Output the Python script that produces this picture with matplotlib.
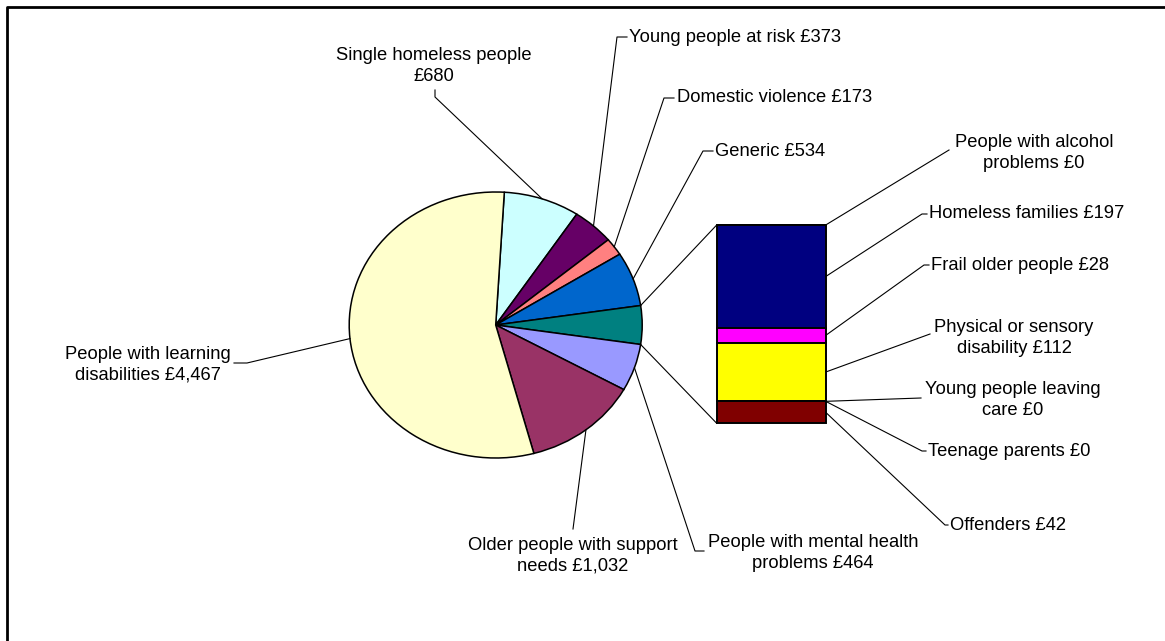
import matplotlib
matplotlib.use("Agg")
import matplotlib.pyplot as plt
import numpy as np

plt.rcParams['font.family'] = ['Liberation Sans', 'DejaVu Sans']

# ---- data -------------------------------------------------------------
pie_names = ["Single homeless people", "Young people at risk", "Domestic violence",
             "Generic", "People with mental health problems",
             "Older people with support needs", "People with learning disabilities"]
pie_values = [680, 373, 173, 534, 464, 1032, 4467]
pie_colors = ["#CCFFFF", "#660066", "#FF8080", "#0066CC",
              "#9999FF", "#993366", "#FFFFCC"]
pie_label_fmt = ["Single homeless people\n£{:,}", "Young people at risk £{:,}",
                 "Domestic violence £{:,}", "Generic £{:,}",
                 "People with mental health\nproblems £{:,}",
                 "Older people with support\nneeds £{:,}",
                 "People with learning\ndisabilities £{:,}"]

# breakdown shown in the bar (top to bottom)
bar_names = ["People with alcohol problems", "Homeless families", "Frail older people",
             "Physical or sensory disability", "Young people leaving care",
             "Teenage parents", "Offenders"]
bar_values = [0, 197, 28, 112, 0, 0, 42]
bar_colors = ["#CCCCFF", "#000080", "#FF00FF", "#FFFF00", "#00FFFF", "#800080", "#800000"]
bar_label_fmt = ["People with alcohol\nproblems £{:,}", "Homeless families £{:,}",
                 "Frail older people £{:,}", "Physical or sensory\ndisability £{:,}",
                 "Young people leaving\ncare £{:,}", "Teenage parents £{:,}",
                 "Offenders £{:,}"]
other_color = "#008080"
other_index = 4   # position of the combined slice in the pie

# ---- figure -----------------------------------------------------------
W, H = 1165, 641
fig = plt.figure(figsize=(W / 100, H / 100), dpi=100)
fig.patch.set_facecolor("white")

def box(left, top, right, bottom):
    return [left / W, 1 - bottom / H, (right - left) / W, (bottom - top) / H]

# pie (drawn as an ellipse)
other_value = sum(bar_values)
values = pie_values[:other_index] + [other_value] + pie_values[other_index:]
colors = pie_colors[:other_index] + [other_color] + pie_colors[other_index:]
total = sum(values)
before = sum(values[:other_index])
start = 360.0 * (before + other_value / 2) / total   # centre the combined slice at 3 o'clock

cx, cy, rx, ry = 495.7, 325.0, 146.5, 133.0
m = 1.05
pax = fig.add_axes(box(cx - rx * m, cy - ry * m, cx + rx * m, cy + ry * m))
wedges, _ = pax.pie(values, colors=colors, startangle=start, counterclock=False,
                    radius=1.0, wedgeprops=dict(edgecolor="black", linewidth=1.1))
pax.set_aspect("auto")
pax.set_xlim(-m, m)
pax.set_ylim(-m, m)
pax.axis("off")

# stacked bar
bx0, by0, bx1, by1 = 716.7, 225.0, 825.7, 423.3
bax = fig.add_axes(box(bx0, by0, bx1, by1))
bottom = other_value
bar_mids = []
for v, c in zip(bar_values, bar_colors):
    bottom -= v
    bax.bar(0, v, bottom=bottom, width=1.0, color=c, edgecolor="black", linewidth=1.4)
    bar_mids.append(bottom + v / 2)
bax.set_xlim(-0.5, 0.5)
bax.set_ylim(0, other_value)
bax.axis("off")
for p in bax.patches:
    p.set_clip_on(False)

# overlay in pixel coordinates for labels and leader lines
ov = fig.add_axes([0, 0, 1, 1], facecolor="none")
ov.set_xlim(0, W)
ov.set_ylim(H, 0)
ov.axis("off")

def to_ov(ax, pt):
    return ov.transData.inverted().transform(ax.transData.transform(pt))

LW = 0.8
FS = 13.2
LS = 1.3

# connectors from the combined slice to the bar
ow = wedges[other_index]
for ang, yb in ((max(ow.theta1, ow.theta2), other_value), (min(ow.theta1, ow.theta2), 0)):
    p0 = to_ov(pax, (np.cos(np.radians(ang)), np.sin(np.radians(ang))))
    p1 = to_ov(bax, (-0.5, yb))
    ov.plot([p0[0], p1[0]], [p0[1], p1[1]], color="black", lw=LW)

# pie labels: (text x, text y, ha, leader points after the slice edge)
pie_layout = [
    (434, 66, "center", [(435, 97), (435, 90)]),
    (629, 37, "left", [(617, 37), (627, 37)]),
    (677, 98, "left", [(664, 98), (674, 98)]),
    (715, 152, "left", [(703, 151), (713, 151)]),
    (813, 553, "center", [(695, 551), (704, 551)]),
    (573, 556, "center", [(573, 529)]),
    (148, 365, "center", [(247, 363), (234, 363)]),
]
pie_wedges = [w for i, w in enumerate(wedges) if i != other_index]
for w, v, fmt, (tx, ty, ha, pts) in zip(pie_wedges, pie_values, pie_label_fmt, pie_layout):
    mid = np.radians((w.theta1 + w.theta2) / 2)
    p0 = to_ov(pax, (np.cos(mid), np.sin(mid)))
    xs = [p0[0]] + [p[0] for p in pts]
    ys = [p0[1]] + [p[1] for p in pts]
    ov.plot(xs, ys, color="black", lw=LW)
    ov.text(tx, ty, fmt.format(v), ha=ha, va="center", fontsize=FS,
            linespacing=LS, multialignment="center")

# bar labels
bar_layout = [
    (1034, 153, "center", [(949, 150)]),
    (929, 214, "left", [(922, 214), (927, 214)]),
    (931, 266, "left", [(924, 265), (929, 265)]),
    (1014, 338, "center", [(930, 334)]),
    (1013, 400, "center", [(921, 398)]),
    (928, 451, "left", [(922, 451), (926, 451)]),
    (950, 526, "left", [(945, 525), (948, 525)]),
]
for mid, v, fmt, (tx, ty, ha, pts) in zip(bar_mids, bar_values, bar_label_fmt, bar_layout):
    p0 = to_ov(bax, (0.5, mid))
    xs = [p0[0]] + [p[0] for p in pts]
    ys = [p0[1]] + [p[1] for p in pts]
    ov.plot(xs, ys, color="black", lw=LW)
    ov.text(tx, ty, fmt.format(v), ha=ha, va="center", fontsize=FS,
            linespacing=LS, multialignment="center")

# chart frame
ov.plot([7, 7, W + 5], [H + 5, 6.5, 6.5], color="black", lw=2.0, clip_on=False)

fig.savefig("out.png", dpi=100)
